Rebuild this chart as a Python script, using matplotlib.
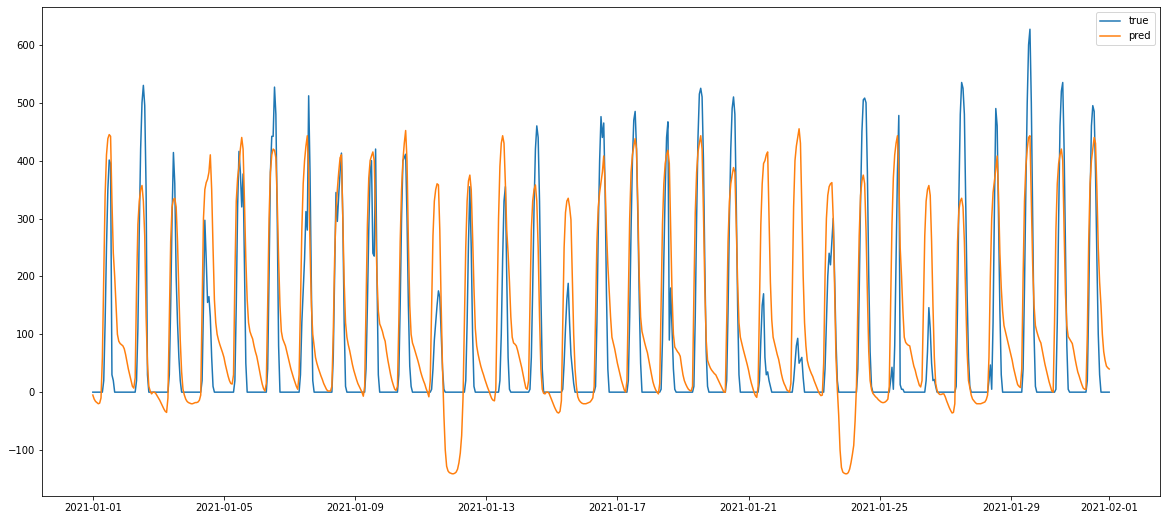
import numpy as np
import pandas as pd
import matplotlib
matplotlib.use('Agg')
import matplotlib.pyplot as plt

# hourly timestamps, 2021-01-01 00:00 .. 2021-02-01 00:00
start = '2021-01-01 00:00'
n_points = 745

# observed values, one line per day (hours 0..23), last value = 2021-02-01 00:00
true_vals = [
    0, 0, 0, 0, 0, 0, 0, 0, 20, 120, 250, 350, 401, 395, 30, 20, 0, 0, 0, 0, 0, 0, 0, 0,
    0, 0, 0, 0, 0, 0, 0, 0, 20, 110, 280, 420, 500, 530, 495, 350, 30, 0, 0, 0, 0, 0, 0, 0,
    0, 0, 0, 0, 0, 0, 0, 0, 30, 150, 300, 414, 360, 200, 120, 60, 20, 0, 0, 0, 0, 0, 0, 0,
    0, 0, 0, 0, 0, 0, 0, 0, 20, 150, 297, 230, 155, 165, 130, 60, 10, 0, 0, 0, 0, 0, 0, 0,
    0, 0, 0, 0, 0, 0, 0, 0, 20, 150, 320, 416, 380, 320, 377, 220, 50, 0, 0, 0, 0, 0, 0, 0,
    0, 0, 0, 0, 0, 0, 0, 0, 40, 200, 380, 442, 442, 527, 480, 300, 80, 0, 0, 0, 0, 0, 0, 0,
    0, 0, 0, 0, 0, 0, 0, 0, 30, 120, 175, 230, 312, 280, 512, 380, 180, 20, 0, 0, 0, 0, 0, 0,
    0, 0, 0, 0, 0, 0, 0, 0, 60, 200, 345, 295, 340, 380, 413, 300, 120, 10, 0, 0, 0, 0, 0, 0,
    0, 0, 0, 0, 0, 0, 0, 0, 40, 150, 280, 380, 400, 240, 235, 420, 200, 30, 0, 0, 0, 0, 0, 0,
    0, 0, 0, 0, 0, 0, 0, 0, 30, 150, 300, 400, 405, 411, 300, 150, 45, 10, 0, 0, 0, 0, 0, 0,
    0, 0, 0, 0, 0, 0, 0, 0, 5, 40, 90, 120, 150, 175, 164, 100, 40, 5, 0, 0, 0, 0, 0, 0,
    0, 0, 0, 0, 0, 0, 0, 0, 0, 20, 120, 260, 355, 250, 100, 10, 0, 0, 0, 0, 0, 0, 0, 0,
    0, 0, 0, 0, 0, 0, 0, 0, 0, 0, 20, 100, 230, 330, 355, 200, 60, 5, 0, 0, 0, 0, 0, 0,
    0, 0, 0, 0, 0, 0, 0, 0, 5, 60, 180, 320, 420, 460, 440, 330, 170, 40, 0, 0, 0, 0, 0, 0,
    0, 0, 0, 0, 0, 0, 0, 0, 5, 50, 110, 160, 188, 120, 65, 40, 15, 0, 0, 0, 0, 0, 0, 0,
    0, 0, 0, 0, 0, 0, 0, 0, 10, 120, 280, 400, 476, 440, 465, 350, 170, 40, 0, 0, 0, 0, 0, 0,
    0, 0, 0, 0, 0, 0, 0, 0, 20, 130, 280, 400, 470, 485, 420, 300, 160, 50, 0, 0, 0, 0, 0, 0,
    0, 0, 0, 0, 0, 0, 0, 0, 5, 90, 230, 350, 440, 467, 90, 180, 110, 40, 5, 0, 0, 0, 0, 0,
    0, 0, 0, 0, 0, 0, 0, 0, 10, 130, 300, 440, 515, 525, 510, 400, 220, 70, 10, 0, 0, 0, 0, 0,
    0, 0, 0, 0, 0, 0, 0, 0, 20, 140, 300, 420, 490, 510, 480, 330, 150, 30, 0, 0, 0, 0, 0, 0,
    0, 0, 0, 0, 0, 0, 0, 0, 20, 90, 150, 170, 60, 30, 35, 20, 10, 0, 0, 0, 0, 0, 0, 0,
    0, 0, 0, 0, 0, 0, 0, 0, 0, 20, 50, 80, 93, 50, 55, 60, 25, 0, 0, 0, 0, 0, 0, 0,
    0, 0, 0, 0, 0, 0, 0, 0, 40, 120, 200, 240, 220, 260, 300, 200, 90, 20, 0, 0, 0, 0, 0, 0,
    0, 0, 0, 0, 0, 0, 0, 0, 40, 170, 330, 450, 505, 508, 500, 380, 200, 70, 10, 0, 0, 0, 0, 0,
    0, 0, 0, 0, 0, 0, 0, 0, 20, 43, 5, 80, 230, 380, 478, 13, 5, 5, 0, 0, 0, 0, 0, 0,
    0, 0, 0, 0, 0, 0, 0, 0, 0, 0, 20, 70, 146, 110, 50, 20, 22, 10, 0, 0, 0, 0, 0, 0,
    0, 0, 0, 0, 0, 0, 0, 0, 10, 150, 340, 480, 535, 525, 480, 330, 170, 60, 10, 0, 0, 0, 0, 0,
    0, 0, 0, 0, 0, 0, 0, 0, 20, 47, 5, 120, 320, 490, 460, 300, 140, 30, 0, 0, 0, 0, 0, 0,
    0, 0, 0, 0, 0, 0, 0, 0, 0, 40, 180, 350, 500, 600, 627, 500, 300, 100, 10, 0, 0, 0, 0, 0,
    0, 0, 0, 0, 0, 0, 0, 0, 0, 5, 120, 300, 460, 520, 535, 420, 250, 80, 5, 0, 0, 0, 0, 0,
    0, 0, 0, 0, 0, 0, 0, 0, 20, 150, 330, 460, 495, 485, 380, 230, 100, 30, 0, 0, 0, 0, 0, 0,
    0,
]

# model predictions, same layout
pred_vals = [
    -5, -12, -16, -18, -20, -19, -10, 60, 200, 340, 410, 438, 445, 442, 330, 240, 200, 150, 100, 88, 84, 82, 80, 75,
    65, 52, 40, 30, 20, 10, 7, 25, 180, 290, 330, 350, 357, 330, 270, 130, 50, 10, 2, -3, 0, 0, -2, -6,
    -10, -14, -19, -24, -29, -33, -35, -10, 120, 260, 320, 333, 335, 320, 260, 170, 90, 35, 5, -5, -12, -16, -18, -19,
    -20, -20, -19, -18, -18, -17, -14, -5, 150, 300, 350, 362, 368, 380, 410, 350, 250, 160, 120, 100, 90, 82, 75, 68,
    60, 48, 38, 28, 20, 15, 14, 30, 200, 330, 370, 390, 420, 440, 420, 330, 230, 160, 120, 105, 98, 92, 80, 70,
    62, 50, 37, 25, 14, 6, 2, 15, 150, 300, 380, 410, 420, 418, 405, 330, 230, 150, 105, 92, 86, 80, 70, 60,
    50, 40, 32, 24, 17, 10, 5, 30, 150, 280, 360, 400, 425, 443, 380, 250, 150, 100, 80, 60, 50, 42, 35, 28,
    22, 15, 10, 5, 2, 2, 2, 10, 100, 230, 310, 350, 380, 405, 410, 300, 190, 120, 95, 82, 72, 60, 48, 38,
    30, 22, 15, 10, 5, 0, -7, 10, 150, 290, 370, 400, 408, 415, 400, 300, 200, 140, 118, 112, 105, 95, 88, 70,
    55, 42, 30, 20, 12, 5, 3, 10, 120, 260, 350, 400, 430, 452, 400, 260, 150, 100, 85, 78, 70, 62, 54, 45,
    35, 27, 20, 14, 6, 0, -8, 20, 150, 270, 330, 350, 360, 358, 280, 150, 40, -40, -100, -128, -136, -139, -140, -141,
    -141, -140, -138, -133, -122, -105, -75, -10, 120, 250, 330, 365, 375, 350, 270, 180, 110, 80, 66, 55, 45, 37, 30, 22,
    15, 8, 2, -5, -11, -14, -15, 5, 150, 300, 390, 430, 443, 430, 360, 280, 240, 190, 130, 95, 85, 83, 80, 72,
    62, 52, 42, 30, 18, 7, 5, 20, 150, 280, 330, 350, 358, 330, 250, 130, 40, 5, -2, -3, 0, 0, -2, -8,
    -14, -20, -26, -31, -35, -36, -33, -15, 120, 250, 310, 330, 335, 320, 298, 200, 100, 40, 10, -8, -14, -17, -19, -20,
    -20, -20, -19, -18, -17, -14, -10, 10, 130, 260, 320, 345, 362, 380, 408, 360, 280, 220, 175, 130, 95, 85, 75, 62,
    50, 40, 30, 20, 12, 4, 0, 20, 160, 300, 380, 410, 425, 438, 420, 320, 200, 130, 105, 95, 85, 76, 68, 55,
    42, 30, 18, 10, 4, 0, -3, 15, 150, 290, 360, 395, 410, 418, 395, 280, 170, 100, 78, 74, 70, 67, 62, 45,
    30, 20, 14, 9, 5, 3, 2, 10, 170, 310, 380, 415, 430, 443, 420, 310, 180, 90, 55, 48, 42, 38, 35, 32,
    30, 25, 20, 15, 10, 5, 0, 0, 120, 260, 330, 360, 375, 388, 380, 290, 190, 120, 95, 85, 75, 66, 57, 48,
    38, 26, 16, 8, 0, -6, -9, 10, 150, 290, 360, 395, 400, 410, 415, 300, 190, 125, 95, 85, 75, 65, 57, 45,
    32, 22, 15, 10, 4, 2, 0, 15, 170, 320, 400, 425, 440, 455, 430, 320, 200, 120, 80, 55, 45, 38, 32, 27,
    20, 14, 8, 2, -3, -6, -5, 50, 200, 300, 340, 355, 360, 362, 300, 180, 60, 5, -40, -100, -130, -138, -140, -141,
    -141, -139, -133, -122, -108, -92, -50, 10, 150, 270, 340, 365, 375, 360, 280, 170, 70, 20, 5, -2, -5, -8, -10, -13,
    -15, -17, -18, -18, -17, -15, -12, 10, 150, 290, 370, 410, 430, 443, 380, 250, 200, 140, 95, 86, 83, 81, 80, 68,
    56, 45, 38, 28, 20, 12, 9, 20, 150, 270, 330, 350, 357, 340, 260, 150, 60, 15, 3, -2, -4, -4, -3, -3,
    -8, -15, -21, -27, -32, -36, -35, -20, 130, 260, 315, 330, 335, 320, 260, 160, 70, 20, 8, -5, -12, -15, -18, -20,
    -20, -20, -20, -19, -18, -17, -13, -5, 60, 200, 300, 345, 365, 385, 408, 340, 240, 180, 140, 115, 105, 95, 85, 75,
    65, 55, 42, 32, 22, 13, 10, 8, 40, 200, 330, 390, 420, 440, 443, 330, 220, 150, 115, 105, 97, 90, 85, 72,
    60, 48, 38, 28, 18, 10, 2, 0, 120, 280, 360, 395, 410, 420, 400, 280, 170, 115, 96, 92, 88, 84, 72, 58,
    46, 35, 28, 20, 13, 7, 5, 5, 100, 260, 360, 400, 420, 440, 430, 350, 250, 190, 150, 100, 70, 55, 45, 42,
    40,
]

times = pd.date_range(start, periods=n_points, freq='h')

fig = plt.figure(figsize=(1164 / 72, 520 / 72), dpi=72)
ax = fig.add_axes([42 / 1164, 24 / 520, 1118 / 1164, 489 / 520])

ax.plot(times, true_vals, label='true')
ax.plot(times, pred_vals, label='pred')
ax.legend(loc='upper right')

fig.savefig('out.png', dpi=72)
